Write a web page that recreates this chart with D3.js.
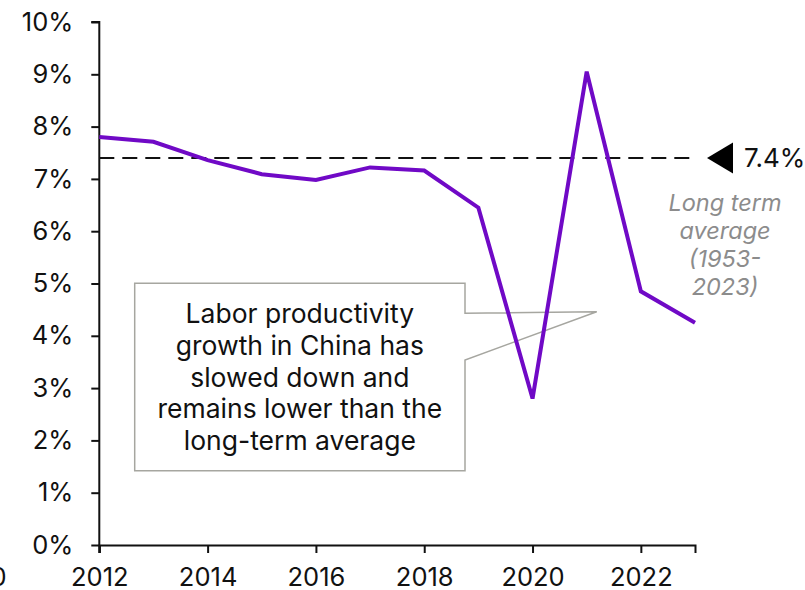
<!DOCTYPE html>
<html>
<head>
<meta charset="utf-8">
<script src="https://cdn.jsdelivr.net/npm/d3@7"></script>
<style>
  html, body { margin: 0; padding: 0; background: #fff; }
  svg { display: block; font-family: Inter, "Noto Sans", sans-serif; }
</style>
</head>
<body>
<svg id="chart" width="805" height="590"></svg>
<script>
// Labor productivity growth, China (annual %)
const years = [2012, 2013, 2014, 2015, 2016, 2017, 2018, 2019, 2020, 2021, 2022, 2023];
const growth = [7.80, 7.71, 7.36, 7.09, 6.98, 7.22, 7.16, 6.45, 2.80, 9.05, 4.85, 4.25];
const longTermAverage = 7.4;
const yTicks = [0, 1, 2, 3, 4, 5, 6, 7, 8, 9, 10];
const xTicks = [2010, 2012, 2014, 2016, 2018, 2020, 2022];
const averageLabel = ["Long term", "average", "(1953-", "2023)"];
const calloutLines = ["Labor productivity", "growth in China has", "slowed down and", "remains lower than the", "long-term average"];

const svg = d3.select("#chart");

const x = d3.scaleLinear().domain([2012, 2023]).range([99.3, 695]);
const y = d3.scaleLinear().domain([0, 10]).range([545, 22]);

// Axes
const yAxis = svg.append("g")
  .attr("transform", `translate(${x(2012)},0)`)
  .call(d3.axisLeft(y).tickValues(yTicks).tickSize(8).tickPadding(18).tickFormat(d => d + "%"));
const xAxis = svg.append("g")
  .attr("transform", `translate(0,${y(0)})`)
  .call(d3.axisBottom(x).tickValues(xTicks).tickSize(8).tickPadding(10).tickFormat(d3.format("d")));

[yAxis, xAxis].forEach(g => {
  g.select(".domain").attr("stroke", "#111").attr("stroke-width", 2);
  g.selectAll(".tick line").attr("stroke", "#111").attr("stroke-width", 2);
  g.selectAll(".tick text").attr("fill", "#111").attr("font-size", 25.5).attr("font-family", "Inter, sans-serif");
});
// y axis line continues down to meet the first x tick
yAxis.select(".domain").attr("d", `M-8,${y(10)}H0V${y(0) + 8}`);
xAxis.selectAll(".tick text").attr("dy", "0.9em");
// the partial 2010 label sits at the left edge
xAxis.selectAll(".tick").filter(d => d === 2010).select("text").attr("dx", -14);

// Long-term average reference line
svg.append("line")
  .attr("x1", x(2012)).attr("x2", x(2023))
  .attr("y1", y(longTermAverage)).attr("y2", y(longTermAverage))
  .attr("stroke", "#111").attr("stroke-width", 2)
  .attr("stroke-dasharray", "15,8");

// Marker and value for the average
const ay = y(longTermAverage);
const tipX = x(2023) + 12;
svg.append("path")
  .attr("d", `M${tipX},${ay} L${tipX + 26},${ay - 15.5} L${tipX + 26},${ay + 15.5} Z`)
  .attr("fill", "#000");
svg.append("text")
  .attr("x", tipX + 37).attr("y", ay + 9.5)
  .attr("font-size", 26).attr("fill", "#111")
  .text(longTermAverage.toFixed(1) + "%");

svg.append("g").selectAll("text")
  .data(averageLabel).join("text")
  .attr("x", 725).attr("y", (d, i) => 211 + i * 28)
  .attr("text-anchor", "middle")
  .attr("font-size", 23.5).attr("font-style", "italic")
  .attr("fill", "#8c8c8c")
  .text(d => d);

// Callout box with pointer
const bx0 = 134.7, by0 = 283.3, bx1 = 465, by1 = 470.7;
svg.append("path")
  .attr("d", `M${bx0},${by0} H${bx1} V313.3 L596.7,311.7 L${bx1},360 V${by1} H${bx0} Z`)
  .attr("fill", "#fff").attr("stroke", "#a6a6a0").attr("stroke-width", 1.5);

svg.append("g").selectAll("text")
  .data(calloutLines).join("text")
  .attr("x", (bx0 + bx1) / 2).attr("y", (d, i) => 323 + i * 31.8)
  .attr("text-anchor", "middle")
  .attr("font-size", 26.5).attr("fill", "#111")
  .text(d => d);

// Growth series
const line = d3.line().x((d, i) => x(years[i])).y(d => y(d));
svg.append("path")
  .datum(growth)
  .attr("d", line)
  .attr("fill", "none")
  .attr("stroke", "#7009c6")
  .attr("stroke-width", 4)
  .attr("stroke-linejoin", "miter");
</script>
</body>
</html>
